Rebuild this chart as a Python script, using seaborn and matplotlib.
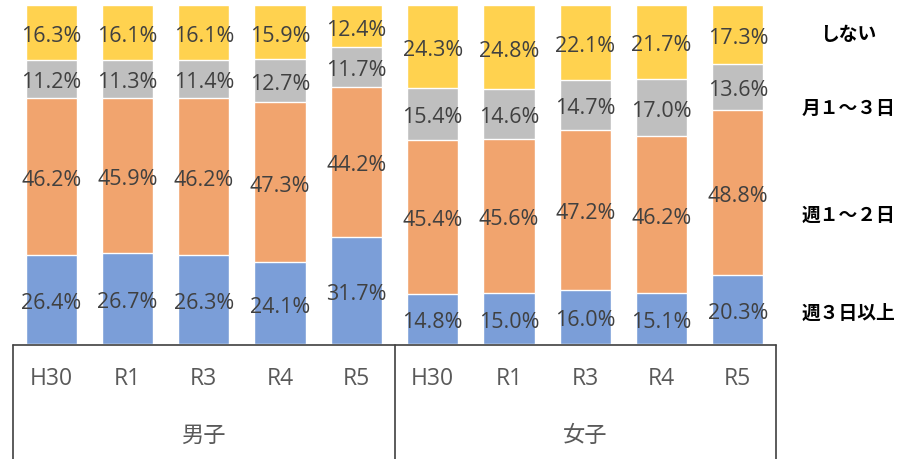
import numpy as np
import pandas as pd
import matplotlib.pyplot as plt
from matplotlib.lines import Line2D
import seaborn as sns

sns.set_theme(style="white")
plt.rcParams["font.family"] = ["Open Sans", "Noto Sans CJK JP", "DejaVu Sans"]

# ---------------------------------------------------------
# data
# ---------------------------------------------------------
groups = ["男子", "女子"]
years = ["H30", "R1", "R3", "R4", "R5"]
levels = ["週３日以上", "週１～２日", "月１～３日", "しない"]  # bottom -> top

boys_3days = [26.4, 26.7, 26.3, 24.1, 31.7]
boys_1to2 = [46.2, 45.9, 46.2, 47.3, 44.2]
boys_month = [11.2, 11.3, 11.4, 12.7, 11.7]
boys_none = [16.3, 16.1, 16.1, 15.9, 12.4]

girls_3days = [14.8, 15.0, 16.0, 15.1, 20.3]
girls_1to2 = [45.4, 45.6, 47.2, 46.2, 48.8]
girls_month = [15.4, 14.6, 14.7, 17.0, 13.6]
girls_none = [24.3, 24.8, 22.1, 21.7, 17.3]

colors = ["#7B9ED8", "#F1A46E", "#BFBFBF", "#FFD24F"]

# ---------------------------------------------------------
# build table
# ---------------------------------------------------------
df = pd.DataFrame({
    "group": np.repeat(groups, len(years)),
    "year": years * len(groups),
    levels[0]: boys_3days + girls_3days,
    levels[1]: boys_1to2 + girls_1to2,
    levels[2]: boys_month + girls_month,
    levels[3]: boys_none + girls_none,
})
df["key"] = df["group"] + df["year"]
order = list(df["key"])

vals = df[levels].to_numpy()
tops = np.cumsum(vals, axis=1)
bottoms = tops - vals

fig = plt.figure(figsize=(8.99, 4.60), dpi=100)
ax = fig.add_axes([13 / 899, 115 / 460, 763 / 899, 339 / 460])

# stacked bars: draw cumulative totals from the top layer down
for i in range(len(levels) - 1, -1, -1):
    sns.barplot(x=df["key"], y=tops[:, i], order=order, color=colors[i],
                width=0.67, saturation=1, ax=ax, zorder=2)

for j in range(len(df)):
    for i in range(len(levels)):
        ax.annotate(f"{vals[j, i]:.1f}%", (j, (bottoms[j, i] + tops[j, i]) / 2),
                    xytext=(0, -2.2), textcoords="offset points",
                    ha="center", va="center", fontsize=15.5, color="#404040", zorder=3)

ax.set_xlim(-0.5, len(df) - 0.5)
ax.set_ylim(0, 100)
ax.set_xticks([])
ax.set_yticks([])
ax.set_xlabel("")
ax.set_ylabel("")
for s in ax.spines.values():
    s.set_visible(False)

# category table below the bars
line_kw = dict(color="#404040", lw=1.2)
ytop = 1 - 346 / 460
fig.add_artist(Line2D([13 / 899, 776 / 899], [ytop, ytop], **line_kw))
for xp in [13, 395, 776]:
    fig.add_artist(Line2D([xp / 899, xp / 899], [ytop, 0], **line_kw))

for j, row in df.iterrows():
    fig.text((13 + (j + 0.5) * 76.3) / 899, 1 - 379 / 460, row["year"],
             ha="center", va="center", fontsize=16.5, color="#595959")
for g, name in enumerate(groups):
    fig.text((13 + (g * len(years) + len(years) / 2) * 76.3) / 899, 1 - 436 / 460, name,
             ha="center", va="center", fontsize=16, color="#595959")

# series labels on the right
label_y = [313, 215, 108, 35]
for lab, yp in zip(levels, label_y):
    fig.text(848 / 899, 1 - yp / 460, lab, ha="center", va="center",
             fontsize=13.5, fontweight="bold", color="black",
             family=["Noto Sans CJK JP", "DejaVu Sans"])

fig.savefig("out.png", dpi=100)
